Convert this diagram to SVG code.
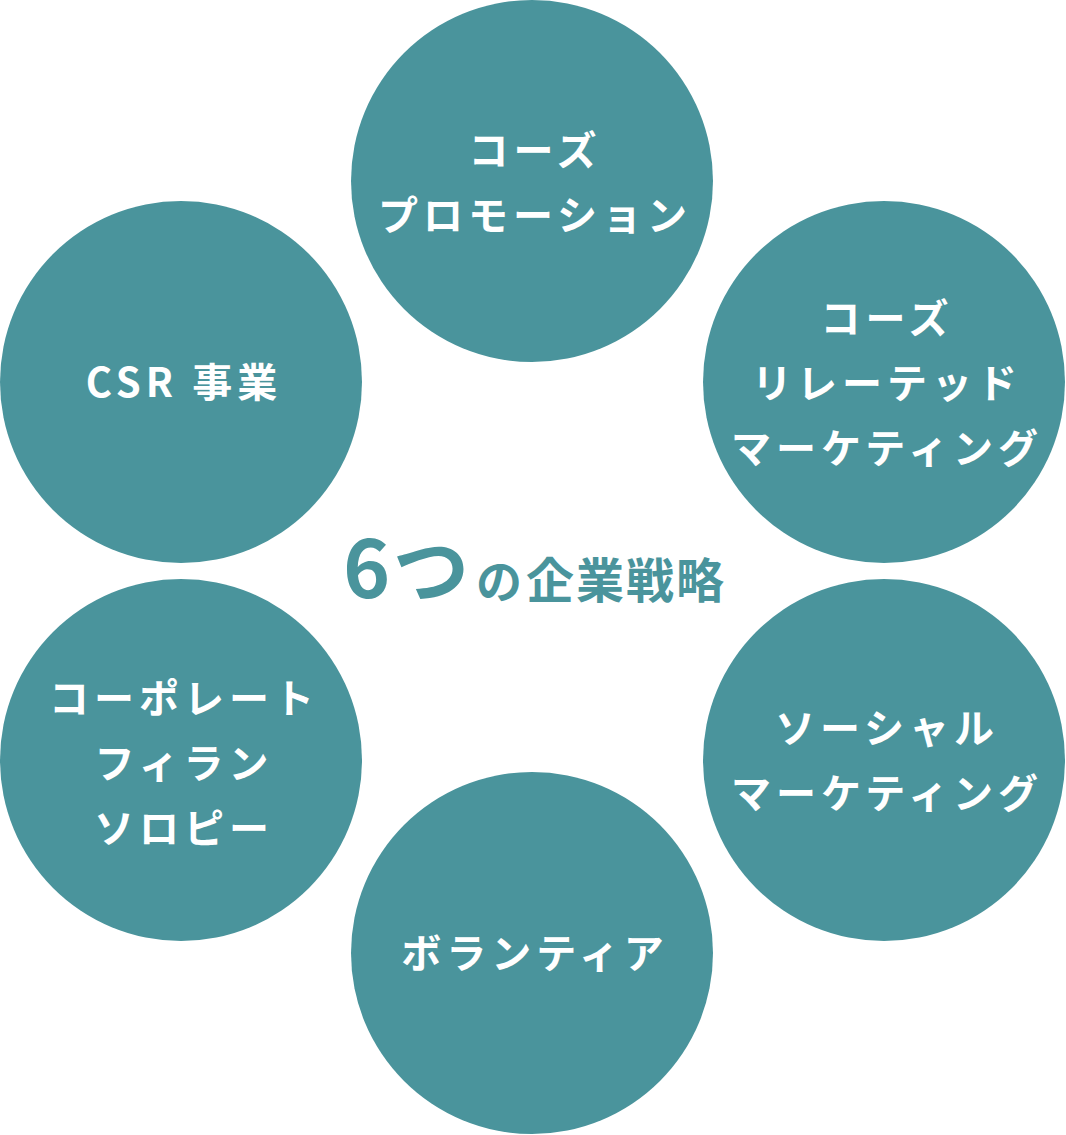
<svg xmlns="http://www.w3.org/2000/svg" width="1066" height="1135" viewBox="0 0 1066 1135">
<style>
.c{fill:#4a949c}
.t{fill:#fff;font-family:"Noto Sans CJK JP","Noto Sans",sans-serif;font-weight:700;font-size:40px;letter-spacing:5px;text-anchor:middle}
.h{fill:#4a949c;font-family:"Noto Sans CJK JP","Noto Sans",sans-serif;font-weight:700}
</style>
<rect width="1066" height="1135" fill="#fff"/>
<g id="n1"><circle class="c" cx="532" cy="181" r="181"/><text class="t" x="535" y="165">コーズ</text><text class="t" x="535" y="230">プロモーション</text></g>
<g id="n2"><circle class="c" cx="884" cy="382" r="181"/><text class="t" x="887" y="333">コーズ</text><text class="t" x="887" y="398">リレーテッド</text><text class="t" x="887" y="463">マーケティング</text></g>
<g id="n3"><circle class="c" cx="884" cy="760" r="181"/><text class="t" x="887" y="743">ソーシャル</text><text class="t" x="887" y="808">マーケティング</text></g>
<g id="n4"><circle class="c" cx="532" cy="953" r="181"/><text class="t" x="535" y="968">ボランティア</text></g>
<g id="n5"><circle class="c" cx="181" cy="760" r="181"/><text class="t" x="184" y="713">コーポレート</text><text class="t" x="184" y="778">フィラン</text><text class="t" x="184" y="843">ソロピー</text></g>
<g id="n6"><circle class="c" cx="181" cy="382" r="181"/><text class="t" x="184" y="397">CSR 事業</text></g>
<g id="title"><text class="h" y="598"><tspan x="343" font-size="80">6</tspan><tspan x="393" font-size="76">つ</tspan><tspan x="476" font-size="46">の</tspan><tspan x="526" font-size="48" letter-spacing="2">企業戦略</tspan></text></g>
<g id="connectors"/>
</svg>
